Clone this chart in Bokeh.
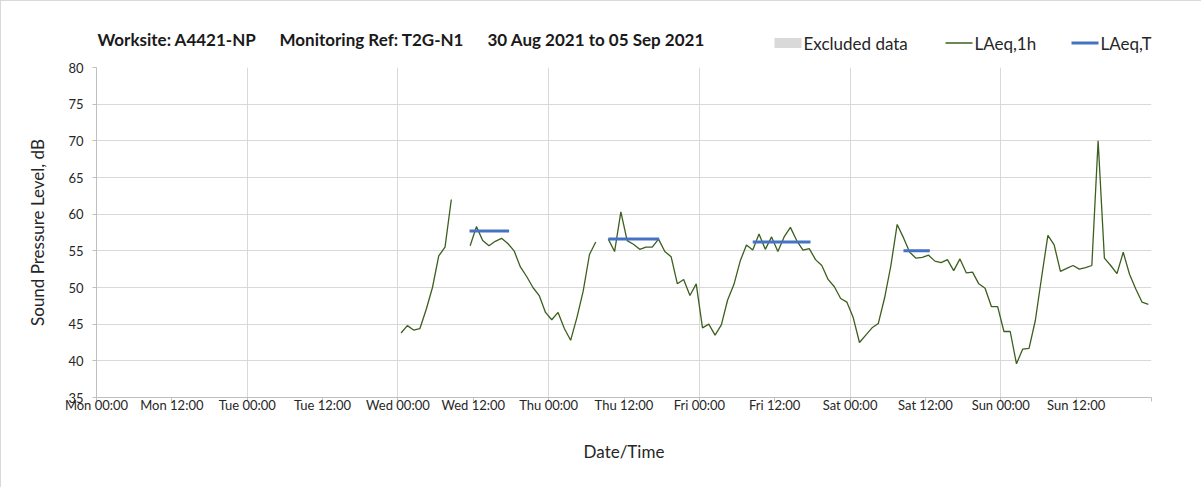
import numpy as np
from bokeh.plotting import figure
from bokeh.layouts import column
from bokeh.models import FixedTicker, Range1d
from bokeh.core.properties import value
from bokeh.embed import file_html
from bokeh.resources import INLINE

# ---- data ----
title_parts = ["Worksite: A4421-NP", "Monitoring Ref: T2G-N1", "30 Aug 2021 to 05 Sep 2021"]
legend_labels = ["Excluded data", "LAeq,1h", "LAeq,T"]

# x ticks (hours from Mon 00:00)
tick_hours = [0, 12, 24, 36, 48, 60, 72, 84, 96, 108, 120, 132, 144, 156, 168]
tick_labels = ["Mon 00:00", "Mon 12:00", "Tue 00:00", "Tue 12:00", "Wed 00:00", "Wed 12:00",
               "Thu 00:00", "Thu 12:00", "Fri 00:00", "Fri 12:00", "Sat 00:00", "Sat 12:00",
               "Sun 00:00", "Sun 12:00", ""]
y_ticks = [35, 40, 45, 50, 55, 60, 65, 70, 75, 80]

# LAeq,1h hourly values, first point Wed 00:30 (hour 48.5), one per hour
first_hour = 48.5
laeq_1h = [
    # Wed
    43.8, 44.8, 44.2, 44.4, 47.0, 50.0, 54.3, 55.5, 62.0, None, None, 55.7,
    58.3, 56.4, 55.7, 56.3, 56.7, 56.0, 55.0, 52.8, 51.5, 50.0, 48.9, 46.6,
    # Thu
    45.6, 46.6, 44.4, 42.8, 45.9, 49.5, 54.5, 56.2, None, 56.6, 54.9, 60.3,
    56.4, 55.9, 55.2, 55.5, 55.5, 56.6, 54.9, 54.2, 50.5, 51.1, 48.9, 50.5,
    # Fri
    44.5, 45.0, 43.5, 44.9, 48.3, 50.4, 53.6, 55.8, 55.1, 57.3, 55.2, 56.9,
    54.9, 56.9, 58.2, 56.4, 55.1, 55.3, 53.8, 53.0, 51.1, 50.1, 48.5, 48.0,
    # Sat
    45.9, 42.5, 43.5, 44.5, 45.1, 48.6, 53.0, 58.6, 56.8, 54.8, 54.0, 54.1,
    54.4, 53.6, 53.4, 53.8, 52.3, 53.9, 52.0, 52.1, 50.5, 49.9, 47.4, 47.4,
    # Sun
    44.0, 44.0, 39.6, 41.6, 41.7, 45.5, 51.4, 57.1, 55.8, 52.2, 52.6, 53.0,
    52.5, 52.7, 53.0, 70.0, 54.0, 53.0, 51.9, 54.8, 51.8, 49.8, 48.0, 47.7,
]

# LAeq,T periods (hours from Mon 00:00) and levels
laeqT_start = [59.4, 81.5, 104.5, 128.5]
laeqT_end = [65.7, 89.6, 113.7, 132.7]
laeqT_value = [57.7, 56.6, 56.2, 55.0]

# ---- styles ----
FONT = "Lato"
TXT = "#262626"
GREEN = "#3c5f1e"
BLUE = "#4472C4"
GREY = "#d9d9d9"
W = 1200
LEFT, RIGHT = 95, 50          # plot borders (frames of both figures are aligned)
HH = 60                       # header height

# ---- header (title + legend); x in page pixels (frame is aligned with the chart) ----
fx0, fx1 = 1 + LEFT, 1 + W - RIGHT
h = figure(width=W, height=HH, output_backend="svg", toolbar_location=None,
           x_range=Range1d(fx0, fx1), y_range=Range1d(0, HH),
           x_axis_type=None, y_axis_type=None,
           min_border_left=LEFT, min_border_right=RIGHT, min_border_top=0, min_border_bottom=0)
h.outline_line_color = None
h.grid.visible = False
h.text(x=[97, 279, 487], y=[22, 22, 22], text=title_parts,
       text_font=value(FONT), text_font_size="17px", text_font_style="bold",
       text_color="#1a1a1a", text_baseline="middle", text_align="left")
# legend glyphs
h.quad(left=[774], right=[801], bottom=[13.5], top=[23.5], fill_color=GREY, line_color=None)
h.segment(x0=[945], y0=[18.5], x1=[972], y1=[18.5], line_color=GREEN, line_width=1.3)
h.segment(x0=[1071], y0=[18.5], x1=[1098], y1=[18.5], line_color=BLUE, line_width=3)
h.text(x=[803, 974, 1100], y=[18.5, 18.5, 18.5], text=legend_labels,
       text_font=value(FONT), text_font_size="17px", text_color=TXT,
       text_baseline="middle", text_align="left")

# ---- main chart ----
x = [first_hour + i for i in range(len(laeq_1h))]
y = np.array([np.nan if v is None else v for v in laeq_1h], dtype=float)

p = figure(width=W, height=426, output_backend="svg", toolbar_location=None,
           x_range=Range1d(0, 168), y_range=Range1d(35, 80),
           min_border_left=LEFT, min_border_right=RIGHT, min_border_top=6, min_border_bottom=90)
p.outline_line_color = None

p.xaxis.ticker = FixedTicker(ticks=tick_hours)
p.xaxis.major_label_overrides = {hh: lab for hh, lab in zip(tick_hours, tick_labels)}
p.yaxis.ticker = FixedTicker(ticks=y_ticks)
p.xgrid.ticker = FixedTicker(ticks=[hh for hh in tick_hours if hh % 24 == 0])
for ax in (p.xaxis[0], p.yaxis[0]):
    ax.axis_line_color = "#bfbfbf"
    ax.major_tick_line_color = "#bfbfbf"
    ax.minor_tick_line_color = None
    ax.major_tick_out = 4
    ax.major_tick_in = 0
    ax.major_label_text_font = FONT
    ax.major_label_text_font_size = "13px"
    ax.major_label_text_color = TXT
    ax.axis_label_text_font = FONT
    ax.axis_label_text_font_size = "17px"
    ax.axis_label_text_font_style = "normal"
    ax.axis_label_text_color = TXT
p.xaxis.axis_label = "Date/Time"
p.yaxis.axis_label = "Sound Pressure Level, dB"
p.xaxis.major_label_standoff = -5
p.yaxis.major_label_standoff = 9
p.xaxis.axis_label_standoff = 25
p.yaxis.axis_label_standoff = 17

p.xgrid.grid_line_color = GREY
p.ygrid.grid_line_color = GREY

p.line(x, y, line_color=GREEN, line_width=1.3)
p.segment(x0=laeqT_start, y0=laeqT_value, x1=laeqT_end, y1=laeqT_value,
          line_color=BLUE, line_width=3)

layout = column(h, p, spacing=0)
layout.styles = {"border-left": "1px solid #d9d9d9", "border-top": "1px solid #d9d9d9"}

open("out.html", "w").write(file_html(layout, INLINE))
